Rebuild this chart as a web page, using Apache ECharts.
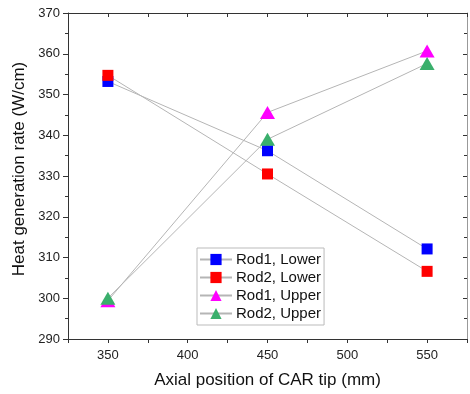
<!DOCTYPE html>
<html>
<head>
<meta charset="utf-8">
<script src="https://cdn.jsdelivr.net/npm/echarts@6/dist/echarts.min.js"></script>
<style>html,body{margin:0;padding:0;background:#fff;}#c{width:470px;height:394px;}</style>
</head>
<body>
<div id="c"></div>
<script>
const positions = [350, 450, 550];
const rod1Lower = [353.2, 336.2, 312.1];
const rod2Lower = [354.7, 330.5, 306.6];
const rod1Upper = [299.4, 345.6, 360.7];
const rod2Upper = [300.0, 339.0, 357.6];
const seriesNames = ['Rod1, Lower', 'Rod2, Lower', 'Rod1, Upper', 'Rod2, Upper'];
const xTickLabels = [350, 400, 450, 500, 550];

const FONT = 'Liberation Sans';
const chart = echarts.init(document.getElementById('c'), null, {renderer: 'canvas'});
function pts(vals) { return positions.map((p, i) => [p, vals[i]]); }
function mk(name, vals, color, symbol, size) {
  return {
    name: name, type: 'line', data: pts(vals),
    symbol: symbol, symbolSize: size,
    lineStyle: {color: '#b5b5b5', width: 1},
    itemStyle: {color: color, borderColor: color, borderWidth: 0},
    z: 3
  };
}
const axisLine = {show: true, lineStyle: {color: '#333', width: 1}};
chart.setOption({
  animation: false,
  grid: {left: 68, right: 2, top: 13, bottom: 55},
  xAxis: [{
    type: 'value', min: 325, max: 575, interval: 25, position: 'bottom',
    axisLine: axisLine,
    axisTick: {show: true, inside: false, length: 4, lineStyle: {color: '#333'}},
    axisLabel: {color: '#222', fontFamily: FONT, fontSize: 13, margin: 10,
      formatter: v => xTickLabels.indexOf(v) >= 0 ? String(v) : ''},
    splitLine: {show: false},
    name: 'Axial position of CAR tip (mm)', nameLocation: 'middle', nameGap: 33,
    nameTextStyle: {color: '#111', fontFamily: FONT, fontSize: 17}
  }, {
    type: 'value', min: 325, max: 575, interval: 25, position: 'top',
    axisLine: axisLine,
    axisTick: {show: true, inside: true, length: 4, lineStyle: {color: '#333'}},
    axisLabel: {show: false}, splitLine: {show: false}
  }],
  yAxis: [{
    type: 'value', min: 290, max: 370, interval: 10, position: 'left',
    axisLine: axisLine,
    axisTick: {show: true, inside: false, length: 5, lineStyle: {color: '#333'}},
    minorTick: {show: true, splitNumber: 2, length: 3, lineStyle: {color: '#333'}},
    axisLabel: {color: '#222', fontFamily: FONT, fontSize: 13, margin: 8},
    splitLine: {show: false},
    name: 'Heat generation rate (W/cm)', nameLocation: 'middle', nameGap: 37,
    nameTextStyle: {color: '#111', fontFamily: FONT, fontSize: 17, padding: [0, 0, 0, 14]}
  }, {
    type: 'value', min: 290, max: 370, interval: 10, position: 'right',
    axisLine: {show: true, lineStyle: {color: '#999', width: 1}},
    axisTick: {show: true, inside: true, length: 4, lineStyle: {color: '#333'}},
    minorTick: {show: true, splitNumber: 2, length: 3, lineStyle: {color: '#333'}},
    axisLabel: {show: false}, splitLine: {show: false}
  }],
  legend: {
    show: true, orient: 'vertical', left: 197, top: 248,
    data: seriesNames,
    backgroundColor: '#fff', borderColor: '#bbb', borderWidth: 1, borderRadius: 0,
    padding: [4, 3, 4, 2], itemGap: 3, itemWidth: 32, itemHeight: 14,
    textStyle: {color: '#111', fontFamily: FONT, fontSize: 15, padding: [0, 0, 0, -1]}
  },
  series: [
    mk(seriesNames[0], rod1Lower, '#0000ff', 'rect', 11),
    mk(seriesNames[1], rod2Lower, '#ff0000', 'rect', 11),
    mk(seriesNames[2], rod1Upper, '#ff00ff', 'triangle', [15, 13]),
    mk(seriesNames[3], rod2Upper, '#3aaf6c', 'triangle', [15, 13])
  ]
});
</script>
</body>
</html>
